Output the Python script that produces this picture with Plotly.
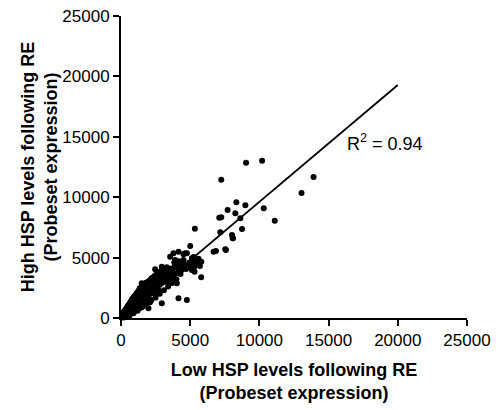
import plotly.graph_objects as go

# Low HSP (x) vs High HSP (y) probeset expression
low_hsp = [
    50, 80, 120, 150, 180, 200, 220, 250, 260, 280, 300, 320, 340, 360, 380, 400, 420, 440, 460, 480,
    500, 520, 540, 560, 580, 600, 620, 640, 660, 680, 700, 720, 740, 760, 780, 800, 820, 840, 860, 880,
    900, 920, 940, 960, 980, 1000, 1020, 1040, 1060, 1080, 1100, 1120, 1140, 1160, 1180, 1200, 1220, 1240,
    1260, 1280, 1300, 1320, 1340, 1360, 1380, 1400, 1420, 1440, 1460, 1480, 1500,
    600, 900, 1200, 1500, 1800, 2100, 350, 700, 1050, 450, 850, 1250, 650, 1150, 1350,
    1550, 1600, 1650, 1700, 1750, 1800, 1850, 1900, 1950, 2000, 2050, 2100, 2150, 2200, 2250, 2300,
    2350, 2400, 2450, 2500, 2550, 2600, 2650, 2700, 2750, 2800, 2850, 2900, 2950, 3000, 3050, 3100,
    3150, 3200, 3250, 3300, 3350, 3400, 3500, 3600, 3700, 3800, 3900, 4000, 4100, 4200, 4300, 4400,
    4500, 4600, 1600, 1900, 2300, 2700, 3450, 3650, 1700, 2000, 2400,
    1981, 2948, 4155, 4758, 4033, 5797, 5314, 1498, 2464, 2948, 2222,
    3792, 4155, 4638, 3551, 3913, 4517, 5120, 5120, 5000, 4758, 4517,
    4800, 4950, 5100, 5200, 5300, 5400, 5500, 5600, 5700, 5800, 5000, 5250, 4700, 5450,
    5338, 7174, 8019, 8091, 8744, 6691, 6860, 7584,
    9036, 10196, 7246, 13043, 8333, 8986, 7705, 10314, 8261, 7246, 7101, 8623, 11111, 8068, 7536, 13913,
    100, 150, 200, 250, 300, 350, 400, 450, 500, 550, 600, 650, 700, 750, 800, 850, 900, 950, 1000, 1100,
    1200, 1300, 1400, 1600, 1800, 2000, 2200, 2400, 2600, 2800,
    200, 400, 600, 800, 1000, 1200, 1400, 1600, 1800, 2000, 2200, 2500, 2800, 3100, 3400, 3700, 4000,
    3300, 3600, 3900, 4200, 4450, 3050, 2650, 3850, 4300, 4700,
    300, 500, 700, 900, 1100, 1300, 1500, 1700, 1900, 2100,
    400, 600, 800, 1000, 1200, 1400, 1600, 1800, 2000, 2200,
]
high_hsp = [
    80, 150, 60, 220, 120, 300, 180, 350, 100, 250, 420, 200, 330, 500, 280, 450, 150, 380, 560, 300,
    620, 420, 250, 700, 520, 380, 800, 600, 450, 900, 700, 520, 1000, 780, 600, 1150, 880, 680, 1250, 950,
    760, 1400, 1050, 820, 1500, 1150, 900, 1650, 1250, 980, 1800, 1350, 1050, 1900, 1450, 1150, 2000, 1550,
    1250, 2150, 1650, 1300, 2250, 1750, 1400, 2400, 1850, 1500, 2550, 1950, 1600,
    150, 400, 600, 900, 1100, 1300, 700, 1200, 1700, 900, 1500, 2100, 1100, 1900, 2450,
    2050, 1700, 2700, 2150, 1800, 2900, 2300, 1900, 3000, 2450, 2050, 3150, 2550, 2200, 3300, 2700,
    2350, 3450, 2850, 2500, 3600, 3000, 2600, 3750, 3150, 2750, 3850, 3300, 2900, 4000, 3400, 3000,
    4100, 3500, 3150, 4200, 3650, 3250, 3800, 3400, 4000, 3550, 4200, 3700, 4350, 3900, 4500, 4000,
    4650, 4200, 2400, 2600, 3000, 2300, 2900, 3100, 2000, 2300, 2100,
    800, 1215, 1629, 1490, 2870, 3370, 3833, 2870, 4030, 4250, 3285,
    5353, 5490, 5353, 5077, 4801, 4801, 4940, 3974, 5960, 5353, 5270,
    4300, 4600, 4450, 4800, 4250, 4700, 4500, 4900, 4300, 4650, 4150, 5050, 4050, 4400,
    7395, 7091, 6870, 6595, 7367, 5490, 5546, 5629,
    12856, 13022, 11450, 10348, 9577, 9329, 8940, 9080, 8665, 8333, 8303, 8250, 8057, 6595, 5684, 11672,
    300, 400, 500, 550, 650, 700, 800, 850, 1000, 1050, 1150, 1200, 1350, 1400, 1550, 1600, 1700, 1750, 1850, 2000,
    2150, 2300, 2450, 2700, 2900, 3000, 3200, 3400, 3500, 3700,
    50, 150, 300, 450, 600, 700, 850, 1000, 1200, 1350, 1500, 1700, 2000, 2300, 2600, 2900, 3200,
    3900, 4100, 4400, 4700, 4250, 3550, 3250, 4600, 3650, 4250,
    450, 650, 900, 1100, 1350, 1550, 1800, 2000, 2200, 2500,
    250, 500, 700, 850, 1050, 1250, 1450, 1650, 1850, 2050,
]

# Linear regression line
fit_x = [0, 20000]
fit_slope = 0.967
fit_intercept = -50
fit_y = [fit_slope * v + fit_intercept for v in fit_x]

r2_label = "R<sup>2</sup> = 0.94"
tick_vals = [0, 5000, 10000, 15000, 20000, 25000]

font_family = "Liberation Sans, Arial, sans-serif"

fig = go.Figure()
fig.add_trace(go.Scatter(
    x=low_hsp, y=high_hsp, mode="markers",
    marker=dict(color="black", size=6),
    showlegend=False, cliponaxis=False,
))
fig.add_trace(go.Scatter(
    x=fit_x, y=fit_y, mode="lines",
    line=dict(color="black", width=1.8),
    showlegend=False,
))
fig.add_annotation(
    x=19100, y=14500, text=r2_label, showarrow=False,
    font=dict(family=font_family, size=18, color="black"),
    xanchor="center", yanchor="middle",
)

axis_common = dict(
    range=[0, 25000], tickvals=tick_vals, ticktext=[str(v) for v in tick_vals],
    showgrid=False, zeroline=False, showline=True, linecolor="black", linewidth=2,
    ticks="outside", ticklen=6, tickwidth=2, tickcolor="black",
    tickfont=dict(family=font_family, size=17, color="black"),
    automargin=False,
)
fig.update_xaxes(
    **axis_common,
    title=dict(text="<b>Low HSP levels following RE<br>(Probeset expression)</b>",
               font=dict(family=font_family, size=18, color="black"), standoff=14),
)
fig.update_yaxes(
    **axis_common,
    title=dict(text="<b>High HSP levels following RE<br>(Probeset expression)</b>",
               font=dict(family=font_family, size=18, color="black"), standoff=0),
)
fig.update_layout(
    width=496, height=410,
    margin=dict(l=121, r=29, t=16, b=92),
    plot_bgcolor="white", paper_bgcolor="white",
)
fig.write_html("out.html")
